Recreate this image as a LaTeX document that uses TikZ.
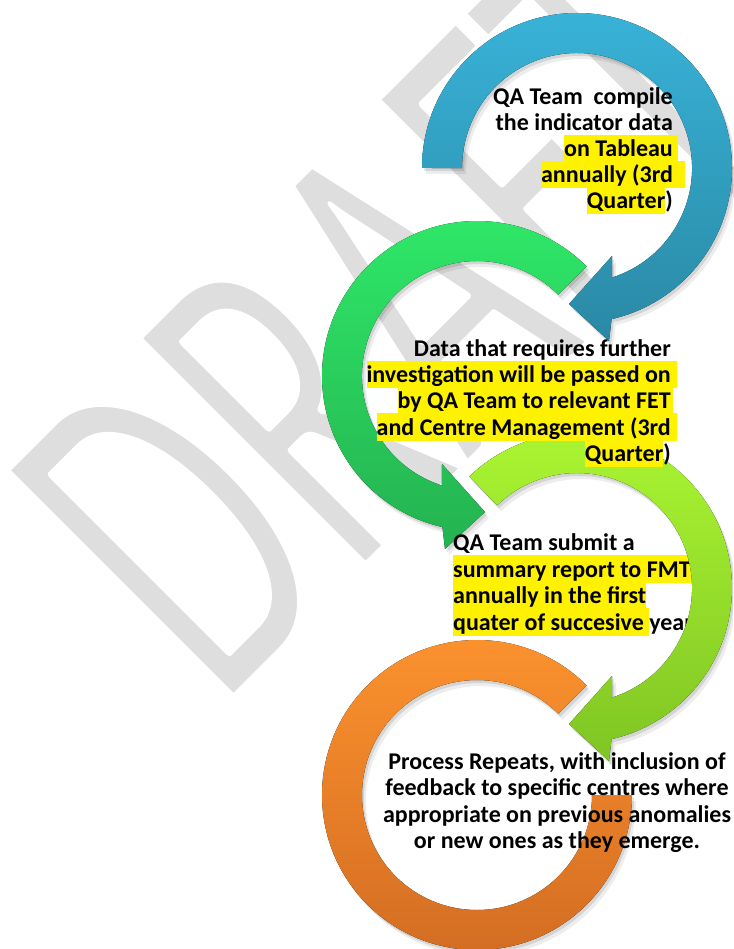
\documentclass[tikz,border=0pt]{standalone}
\usepackage{fontspec}
\setmainfont{Carlito}
\newfontfamily\wmfont{Carlito}
\definecolor{blueT}{RGB}{56,178,215}
\definecolor{blueB}{RGB}{42,137,165}
\definecolor{greenT}{RGB}{47,233,105}
\definecolor{greenB}{RGB}{36,178,80}
\definecolor{lgreenT}{RGB}{172,247,50}
\definecolor{lgreenB}{RGB}{128,197,36}
\definecolor{orangeT}{RGB}{253,147,46}
\definecolor{orangeB}{RGB}{210,108,34}
\definecolor{wmgray}{RGB}{222,222,222}
\newcommand\hl[1]{{\setlength\fboxsep{0pt}\colorbox{yellow}{\rule[-5.5pt]{0pt}{27.5pt}#1}}}
\newcommand\hangsp[1]{\rlap{\hl{\hspace{#1}}}}
% ring paths
\newcommand\ringblue[1]{\fill[#1] (422,168) arc[start angle=180,end angle=437.1,radius=155] -- (609,341) -- (569,304) -- (612,256) -- (612.2,277.5) arc[start angle=432.2,end angle=180,radius=115] -- cycle;}
\newcommand\ringgreen[1]{\fill[#1] (586.6,266.4) arc[start angle=315,end angle=102.9,radius=155] -- (445,549) -- (485,512) -- (442,464) -- (441.8,485.5) arc[start angle=107.8,end angle=315,radius=115] -- cycle;}
\newcommand\ringlgreen[1]{\fill[#1] (469.3,476.5) arc[start angle=226,end angle=437.1,radius=155] -- (609,761) -- (569,724) -- (612,676) -- (612.2,697.5) arc[start angle=432.2,end angle=226,radius=115] -- cycle;}
\newcommand\ringorange[1]{\fill[#1] (586.6,685.4) arc[start angle=315,end angle=0,radius=155] -- (592,795) arc[start angle=0,end angle=315,radius=115] -- cycle;}
\newcommand\ringshadow[1]{#1{black,opacity=0.10,shift={(2,3)}}#1{black,opacity=0.07,shift={(4,6)}}}
\begin{document}
\begin{tikzpicture}[x=1pt,y=-1pt,
  txt/.style={inner sep=0pt, font=\fontsize{24}{26}\selectfont\bfseries, text=black},
  wm/.style={inner sep=0pt, anchor=base west, rotate=45, text=wmgray, font=\wmfont\fontsize{503}{503}\selectfont}]
\useasboundingbox (0,0) rectangle (733,949);
\fill[white] (0,0) rectangle (733,949);
\clip (0,0) rectangle (733,949);
% watermark (gray letters, thinned by a white outline stroke)
\node[wm] (wmark) at (220,712) {\scalebox{0.6}[1]{DRAFT}};
\node[wm,text=white] (wmthin) at (220,712) {\scalebox{0.6}[1]{\special{pdf:literal direct 1 Tr 8 w 1 j}DRAFT\special{pdf:literal direct 0 Tr 1 w 0 j}}};
% blue and green rings
\ringshadow\ringblue
\ringblue{top color=blueT,bottom color=blueB}
\ringshadow\ringgreen
\ringgreen{top color=greenT,bottom color=greenB}
% blue text
\node[txt,anchor=base east] (b1) at (673,105) {QA Team\ \ compile};
\node[txt,anchor=base east] (b2) at (673,131) {the indicator data};
\node[txt,anchor=base east] (b3) at (673,157) {\hl{on Tableau}\hangsp{5pt}};
\node[txt,anchor=base east] (b4) at (673,183) {\hl{annually (3rd}\hangsp{12pt}};
\node[txt,anchor=base east] (b5) at (673,209) {\hl{Quarter})};
% light green text (under its ring)
\node[txt,anchor=base west] (l1) at (453,550) {QA Team submit a};
\node[txt,anchor=base west] (l2) at (453,577) {\hl{summary report to FMT\hspace{4pt}}};
\node[txt,anchor=base west] (l3) at (453,603) {\hl{annually in the first}};
\node[txt,anchor=base west] (l4) at (453,630) {\hl{quater of succesive }year};
% light green and orange rings
\ringshadow\ringlgreen
\ringlgreen{top color=lgreenT,bottom color=lgreenB}
% green text (above the light green ring)
\node[txt,anchor=base east] (g1) at (671,356) {Data that requires further};
\node[txt,anchor=base east] (g2) at (671,382.5) {\hl{investigation will be passed on}\hangsp{6pt}};
\node[txt,anchor=base east] (g3) at (671,408.5) {\hl{by QA Team to relevant FET}\hangsp{2pt}};
\node[txt,anchor=base east] (g4) at (671,435) {\hl{and Centre Management (3rd}\hangsp{6pt}};
\node[txt,anchor=base east] (g5) at (671,461) {\hl{Quarter})};
\ringshadow\ringorange
\ringorange{top color=orangeT,bottom color=orangeB}
% orange text
\node[txt,anchor=base] (o1) at (557,769) {Process Repeats, with inclusion of};
\node[txt,anchor=base] (o2) at (557,795.5) {feedback to specific centres where};
\node[txt,anchor=base] (o3) at (557,822) {appropriate on previous anomalies};
\node[txt,anchor=base] (o4) at (557,848) {or new ones as they emerge.};
\end{tikzpicture}
\end{document}
